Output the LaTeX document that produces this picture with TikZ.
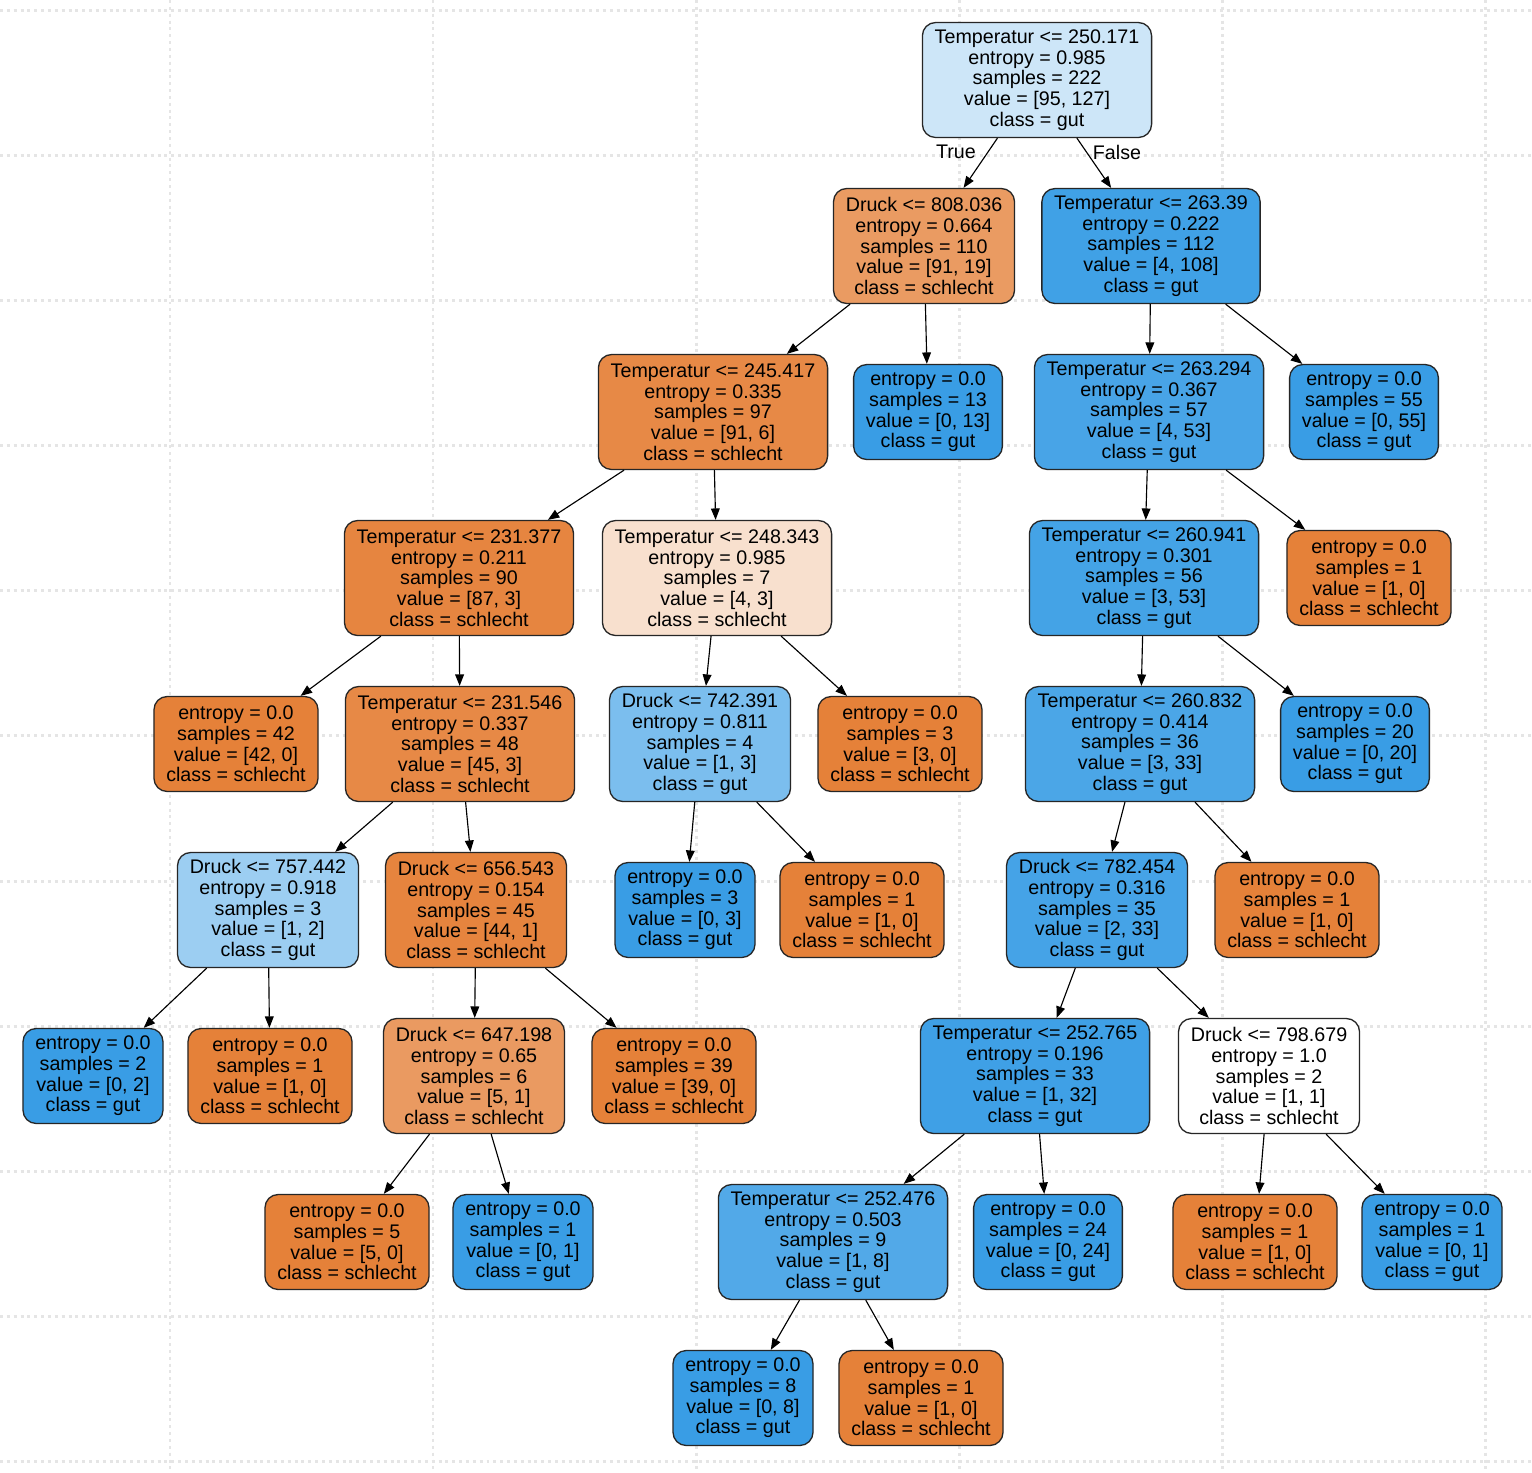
\documentclass[tikz,border=0pt]{standalone}
\usepackage{fontspec}
\setmainfont{Liberation Sans}
\usetikzlibrary{arrows.meta}

\definecolor{gutpure}{RGB}{57,157,229}
\definecolor{schlechtpure}{RGB}{229,129,57}
\definecolor{croot}{RGB}{205,230,248}
\definecolor{cdruckA}{RGB}{234,155,98}
\definecolor{ctempA}{RGB}{64,161,230}
\definecolor{ctempB}{RGB}{231,137,70}
\definecolor{ctempC}{RGB}{72,164,231}
\definecolor{ctempD}{RGB}{230,133,64}
\definecolor{ctempE}{RGB}{248,224,206}
\definecolor{ctempF}{RGB}{68,163,230}
\definecolor{cdruckB}{RGB}{123,190,238}
\definecolor{ctempG}{RGB}{75,166,231}
\definecolor{cdruckC}{RGB}{156,206,242}
\definecolor{cdruckD}{RGB}{230,132,62}
\definecolor{cdruckE}{RGB}{69,163,231}
\definecolor{cdruckF}{RGB}{234,154,97}
\definecolor{ctempH}{RGB}{63,160,230}
\definecolor{ctempI}{RGB}{82,169,232}

\newcommand{\treefont}{\fontsize{11.2}{11.75}\selectfont}

\begin{document}
\begin{tikzpicture}[x=0.02cm, y=-0.02cm,
    treebox/.style={draw=black!85, line width=0.75pt, rounded corners=7.5pt, align=center,
        font=\treefont, text=black, inner xsep=7pt, inner ysep=2pt},
    splitbox/.style={treebox, minimum height=2.3cm},
    leafbox/.style={treebox, minimum height=1.9cm},
    link/.style={-{Triangle[length=6.5pt, width=5pt]}, line width=0.65pt, black},
    dotgrid/.style={draw=black!10, line width=1.7pt, dash pattern=on 1.7pt off 2.2pt}]
    \useasboundingbox[fill=white] (0, 0) rectangle (1532, 1472);
    % dotted background grid
    \draw[dotgrid] (0, 10) -- (1532, 10);
    \draw[dotgrid] (0, 155) -- (1532, 155);
    \draw[dotgrid] (0, 300) -- (1532, 300);
    \draw[dotgrid] (0, 445) -- (1532, 445);
    \draw[dotgrid] (0, 590) -- (1532, 590);
    \draw[dotgrid] (0, 735) -- (1532, 735);
    \draw[dotgrid] (0, 881) -- (1532, 881);
    \draw[dotgrid] (0, 1026) -- (1532, 1026);
    \draw[dotgrid] (0, 1171) -- (1532, 1171);
    \draw[dotgrid] (0, 1316) -- (1532, 1316);
    \draw[dotgrid] (0, 1461) -- (1532, 1461);
    \draw[dotgrid] (170, 0) -- (170, 1472);
    \draw[dotgrid] (433, 0) -- (433, 1472);
    \draw[dotgrid] (696, 0) -- (696, 1472);
    \draw[dotgrid] (959, 0) -- (959, 1472);
    \draw[dotgrid] (1222, 0) -- (1222, 1472);
    \draw[dotgrid] (1485, 0) -- (1485, 1472);
    % root
    \node[splitbox, fill=croot] (n0) at (1037, 80) {Temperatur <= 250.171\\entropy = 0.985\\samples = 222\\value = [95, 127]\\class = gut};
    \node (ltrue) at (956, 152) {\treefont True};
    \node (lfalse) at (1117, 152) {\treefont False};
    % level 1
    \node[splitbox, fill=cdruckA] (n1) at (924, 246) {Druck <= 808.036\\entropy = 0.664\\samples = 110\\value = [91, 19]\\class = schlecht};
    \node[splitbox, fill=ctempA] (n2) at (1151, 246) {Temperatur <= 263.39\\entropy = 0.222\\samples = 112\\value = [4, 108]\\class = gut};
    % level 2
    \node[splitbox, fill=ctempB] (n3) at (713, 412) {Temperatur <= 245.417\\entropy = 0.335\\samples = 97\\value = [91, 6]\\class = schlecht};
    \node[leafbox, fill=gutpure] (n4) at (928, 412) {entropy = 0.0\\samples = 13\\value = [0, 13]\\class = gut};
    \node[splitbox, fill=ctempC] (n5) at (1149, 412) {Temperatur <= 263.294\\entropy = 0.367\\samples = 57\\value = [4, 53]\\class = gut};
    \node[leafbox, fill=gutpure] (n6) at (1364, 412) {entropy = 0.0\\samples = 55\\value = [0, 55]\\class = gut};
    % level 3
    \node[splitbox, fill=ctempD] (n7) at (459, 578) {Temperatur <= 231.377\\entropy = 0.211\\samples = 90\\value = [87, 3]\\class = schlecht};
    \node[splitbox, fill=ctempE] (n8) at (717, 578) {Temperatur <= 248.343\\entropy = 0.985\\samples = 7\\value = [4, 3]\\class = schlecht};
    \node[splitbox, fill=ctempF] (n9) at (1144, 578) {Temperatur <= 260.941\\entropy = 0.301\\samples = 56\\value = [3, 53]\\class = gut};
    \node[leafbox, fill=schlechtpure] (n10) at (1369, 578) {entropy = 0.0\\samples = 1\\value = [1, 0]\\class = schlecht};
    % level 4
    \node[leafbox, fill=schlechtpure] (n11) at (236, 744) {entropy = 0.0\\samples = 42\\value = [42, 0]\\class = schlecht};
    \node[splitbox, fill=ctempB] (n12) at (460, 744) {Temperatur <= 231.546\\entropy = 0.337\\samples = 48\\value = [45, 3]\\class = schlecht};
    \node[splitbox, fill=cdruckB] (n13) at (700, 744) {Druck <= 742.391\\entropy = 0.811\\samples = 4\\value = [1, 3]\\class = gut};
    \node[leafbox, fill=schlechtpure] (n14) at (900, 744) {entropy = 0.0\\samples = 3\\value = [3, 0]\\class = schlecht};
    \node[splitbox, fill=ctempG] (n15) at (1140, 744) {Temperatur <= 260.832\\entropy = 0.414\\samples = 36\\value = [3, 33]\\class = gut};
    \node[leafbox, fill=gutpure] (n16) at (1355, 744) {entropy = 0.0\\samples = 20\\value = [0, 20]\\class = gut};
    % level 5
    \node[splitbox, fill=cdruckC] (n17) at (268, 910) {Druck <= 757.442\\entropy = 0.918\\samples = 3\\value = [1, 2]\\class = gut};
    \node[splitbox, fill=cdruckD] (n18) at (476, 910) {Druck <= 656.543\\entropy = 0.154\\samples = 45\\value = [44, 1]\\class = schlecht};
    \node[leafbox, fill=gutpure] (n19) at (685, 910) {entropy = 0.0\\samples = 3\\value = [0, 3]\\class = gut};
    \node[leafbox, fill=schlechtpure] (n20) at (862, 910) {entropy = 0.0\\samples = 1\\value = [1, 0]\\class = schlecht};
    \node[splitbox, fill=cdruckE] (n21) at (1097, 910) {Druck <= 782.454\\entropy = 0.316\\samples = 35\\value = [2, 33]\\class = gut};
    \node[leafbox, fill=schlechtpure] (n22) at (1297, 910) {entropy = 0.0\\samples = 1\\value = [1, 0]\\class = schlecht};
    % level 6
    \node[leafbox, fill=gutpure] (n23) at (93, 1076) {entropy = 0.0\\samples = 2\\value = [0, 2]\\class = gut};
    \node[leafbox, fill=schlechtpure] (n24) at (270, 1076) {entropy = 0.0\\samples = 1\\value = [1, 0]\\class = schlecht};
    \node[splitbox, fill=cdruckF] (n25) at (474, 1076) {Druck <= 647.198\\entropy = 0.65\\samples = 6\\value = [5, 1]\\class = schlecht};
    \node[leafbox, fill=schlechtpure] (n26) at (674, 1076) {entropy = 0.0\\samples = 39\\value = [39, 0]\\class = schlecht};
    \node[splitbox, fill=ctempH] (n27) at (1035, 1076) {Temperatur <= 252.765\\entropy = 0.196\\samples = 33\\value = [1, 32]\\class = gut};
    \node[splitbox, fill=white] (n28) at (1269, 1076) {Druck <= 798.679\\entropy = 1.0\\samples = 2\\value = [1, 1]\\class = schlecht};
    % level 7
    \node[leafbox, fill=schlechtpure] (n29) at (347, 1242) {entropy = 0.0\\samples = 5\\value = [5, 0]\\class = schlecht};
    \node[leafbox, fill=gutpure] (n30) at (523, 1242) {entropy = 0.0\\samples = 1\\value = [0, 1]\\class = gut};
    \node[splitbox, fill=ctempI] (n31) at (833, 1242) {Temperatur <= 252.476\\entropy = 0.503\\samples = 9\\value = [1, 8]\\class = gut};
    \node[leafbox, fill=gutpure] (n32) at (1048, 1242) {entropy = 0.0\\samples = 24\\value = [0, 24]\\class = gut};
    \node[leafbox, fill=schlechtpure] (n33) at (1255, 1242) {entropy = 0.0\\samples = 1\\value = [1, 0]\\class = schlecht};
    \node[leafbox, fill=gutpure] (n34) at (1432, 1242) {entropy = 0.0\\samples = 1\\value = [0, 1]\\class = gut};
    % level 8
    \node[leafbox, fill=gutpure] (n35) at (743, 1398) {entropy = 0.0\\samples = 8\\value = [0, 8]\\class = gut};
    \node[leafbox, fill=schlechtpure] (n36) at (921, 1398) {entropy = 0.0\\samples = 1\\value = [1, 0]\\class = schlecht};
    % edges
    \draw[link] (n0) -- (n1);
    \draw[link] (n0) -- (n2);
    \draw[link] (n1) -- (n3);
    \draw[link] (n1) -- (n4);
    \draw[link] (n2) -- (n5);
    \draw[link] (n2) -- (n6);
    \draw[link] (n3) -- (n7);
    \draw[link] (n3) -- (n8);
    \draw[link] (n5) -- (n9);
    \draw[link] (n5) -- (n10);
    \draw[link] (n7) -- (n11);
    \draw[link] (n7) -- (n12);
    \draw[link] (n8) -- (n13);
    \draw[link] (n8) -- (n14);
    \draw[link] (n9) -- (n15);
    \draw[link] (n9) -- (n16);
    \draw[link] (n12) -- (n17);
    \draw[link] (n12) -- (n18);
    \draw[link] (n13) -- (n19);
    \draw[link] (n13) -- (n20);
    \draw[link] (n15) -- (n21);
    \draw[link] (n15) -- (n22);
    \draw[link] (n17) -- (n23);
    \draw[link] (n17) -- (n24);
    \draw[link] (n18) -- (n25);
    \draw[link] (n18) -- (n26);
    \draw[link] (n21) -- (n27);
    \draw[link] (n21) -- (n28);
    \draw[link] (n25) -- (n29);
    \draw[link] (n25) -- (n30);
    \draw[link] (n27) -- (n31);
    \draw[link] (n27) -- (n32);
    \draw[link] (n28) -- (n33);
    \draw[link] (n28) -- (n34);
    \draw[link] (n31) -- (n35);
    \draw[link] (n31) -- (n36);
\end{tikzpicture}
\end{document}
